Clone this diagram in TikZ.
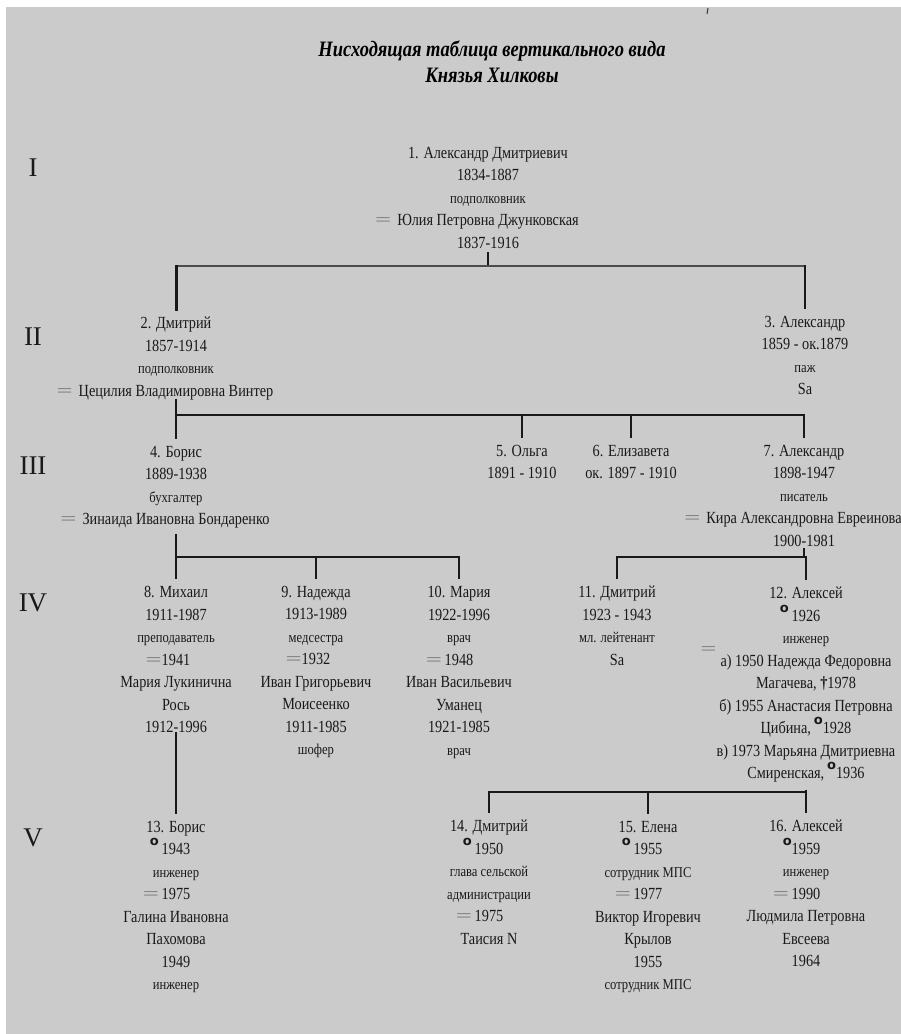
\documentclass[tikz,border=0pt]{standalone}
\usepackage{fontspec}
\setmainfont{Liberation Serif}[FakeStretch=0.84]
\newfontfamily\romfont{Liberation Serif}
\newfontfamily\symfont{DejaVu Sans}
\definecolor{paper}{RGB}{203,203,203}
\newcommand{\wedsign}{\textcolor{black!55}{\scalebox{2}[1]{=}}}
\newcommand{\wed}{\llap{\wedsign\hspace{6pt}}}
\newcommand{\born}{\raisebox{9pt}{\symfont\bfseries\fontsize{13}{13}\selectfont o}}
\newcommand{\occ}{\fontsize{15}{22.5}\selectfont}
\tikzset{
	person/.style={anchor=north, align=center, inner sep=0pt, text=black!90, font=\fontsize{17}{22.5}\selectfont},
	gen/.style={inner sep=0pt, text=black!90, font=\romfont\fontsize{27}{27}\selectfont},
	heading/.style={anchor=north, align=center, inner sep=0pt, text=black, font=\bfseries\itshape\fontsize{22}{26}\selectfont},
	link/.style={line width=2pt, draw=black!90, line cap=rect},
}

\begin{document}
\begin{tikzpicture}[x=1pt, y=-1pt]
			%%%%% START %%%%%
			
			\useasboundingbox (0, 0) rectangle (901, 1034);
			\fill[white] (0, 0) rectangle (901, 1034);
			\fill[paper] (6, 7) rectangle (901, 1034);
			
			% cut-off mark at the top edge
			\draw[line width=1pt, black!80] (708, 8) -- (707, 14);
			
			\node[heading] (title) at (492, 41) {Нисходящая таблица вертикального вида\\Князья Хилковы};
			
			\node[gen] (g1) at (33, 168) {I};
			\node[gen] (g2) at (33, 337) {II};
			\node[gen] (g3) at (33, 466) {III};
			\node[gen] (g4) at (33, 603) {IV};
			\node[gen] (g5) at (33, 838) {V};
			
			\node[person] (p1) at (488, 147) {1. Александр Дмитриевич\\1834-1887\\{\occ подполковник}\\\wed Юлия Петровна Джунковская\\1837-1916};
			
			\node[person] (p2) at (176, 317) {2. Дмитрий\\1857-1914\\{\occ подполковник}\\\wed Цецилия Владимировна Винтер};
			\node[person] (p3) at (805, 316) {3. Александр\\1859 - ок.1879\\{\occ паж}\\Sa};
			
			\node[person] (p4) at (176, 446) {4. Борис\\1889-1938\\{\occ бухгалтер}\\\wed Зинаида Ивановна Бондаренко};
			\node[person] (p5) at (522, 445) {5. Ольга\\1891 - 1910};
			\node[person] (p6) at (631, 445) {6. Елизавета\\ок. 1897 - 1910};
			\node[person] (p7) at (804, 445) {7. Александр\\1898-1947\\{\occ писатель}\\\wed Кира Александровна Евреинова\\1900-1981};
			
			\node[person] (p8) at (176, 586) {8. Михаил\\1911-1987\\{\occ преподаватель}\\\llap{\wedsign}1941\\Мария Лукинична\\Рось\\1912-1996};
			\node[person] (p9) at (316, 586) {9. Надежда\\1913-1989\\{\occ медсестра}\\\llap{\wedsign}1932\\Иван Григорьевич\\Моисеенко\\1911-1985\\{\occ шофер}};
			\node[person] (p10) at (459, 586) {10. Мария\\1922-1996\\{\occ врач}\\\llap{\wedsign\,}1948\\Иван Васильевич\\Уманец\\1921-1985\\{\occ врач}};
			\node[person] (p11) at (617, 586) {11. Дмитрий\\1923 - 1943\\{\occ мл. лейтенант}\\Sa};
			\node[person] (p12) at (806, 587) {12. Алексей\\\llap{\born\,}1926\\{\occ инженер}\\\llap{\smash{\raisebox{12pt}{\wedsign}}\hspace{4pt}}а) 1950 Надежда Федоровна\\Магачева, {\bfseries †}1978\\б) 1955 Анастасия Петровна\\Цибина,\,\born1928\\в) 1973 Марьяна Дмитриевна\\Смиренская,\,\born1936};
			
			\node[person] (p13) at (176, 821) {13. Борис\\\llap{\born\,}1943\\{\occ инженер}\\\llap{\wedsign\,}1975\\Галина Ивановна\\Пахомова\\1949\\{\occ инженер}};
			\node[person] (p14) at (489, 820) {14. Дмитрий\\\llap{\born\,}1950\\{\occ глава сельской}\\{\occ администрации}\\\llap{\wedsign\,}1975\\Таисия N};
			\node[person] (p15) at (648, 821) {15. Елена\\\llap{\born\,}1955\\{\occ сотрудник МПС}\\\llap{\wedsign\,}1977\\Виктор Игоревич\\Крылов\\1955\\{\occ сотрудник МПС}};
			\node[person] (p16) at (806, 820) {16. Алексей\\\llap{\born}1959\\{\occ инженер}\\\llap{\wedsign\,}1990\\Людмила Петровна\\Евсеева\\1964};
			
			% I -> II
			\coordinate (j1) at (488, 266);
			\draw[link, line width=1.2pt, shorten <=4pt] (p1.south) -- (j1);
			\draw[link, line width=1.2pt, draw=black!70] (p2 |- j1) -- (p3 |- j1);
			\draw[link, line width=3pt, shorten >=8pt] (p2 |- j1) -- (p2.north);
			\draw[link, shorten >=8pt] (p3 |- j1) -- (p3.north);
			
			% II -> III
			\coordinate (j2) at (176, 415);
			\draw[link] (p2.south) -- (j2);
			\draw[link, line width=2.4pt] (j2) -- (p7 |- j2);
			\draw[link, shorten >=8pt] (p4 |- j2) -- (p4.north);
			\draw[link, shorten >=8pt] (p5 |- j2) -- (p5.north);
			\draw[link, shorten >=8pt] (p6 |- j2) -- (p6.north);
			\draw[link, shorten >=8pt] (p7 |- j2) -- (p7.north);
			
			% III -> IV
			\coordinate (j4) at (176, 557);
			\draw[link, shorten <=6pt] (p4.south) -- (j4);
			\draw[link] (j4) -- (p10 |- j4);
			\draw[link, shorten >=8pt] (p8 |- j4) -- (p8.north);
			\draw[link, shorten >=8pt] (p9 |- j4) -- (p9.north);
			\draw[link, shorten >=8pt] (p10 |- j4) -- (p10.north);
			
			\coordinate (j7) at (804, 557);
			\draw[link, shorten <=2pt] (p7.south) -- (j7);
			\draw[link] (p11 |- j7) -- (p12 |- j7);
			\draw[link, shorten >=8pt] (p11 |- j7) -- (p11.north);
			\draw[link, shorten >=8pt] (p12 |- j7) -- (p12.north);
			
			% IV -> V
			\draw[link, shorten >=8pt] (p8.south) -- (p13.north);
			
			\coordinate (j12) at (806, 792);
			\draw[link, shorten <=8pt] (p12.south) -- (j12);
			\draw[link] (p14 |- j12) -- (p16 |- j12);
			\draw[link, shorten >=8pt] (p14 |- j12) -- (p14.north);
			\draw[link, shorten >=8pt] (p15 |- j12) -- (p15.north);
			\draw[link, shorten >=8pt] (p16 |- j12) -- (p16.north);
			
			%%%%% END %%%%%
\end{tikzpicture}
\end{document}
